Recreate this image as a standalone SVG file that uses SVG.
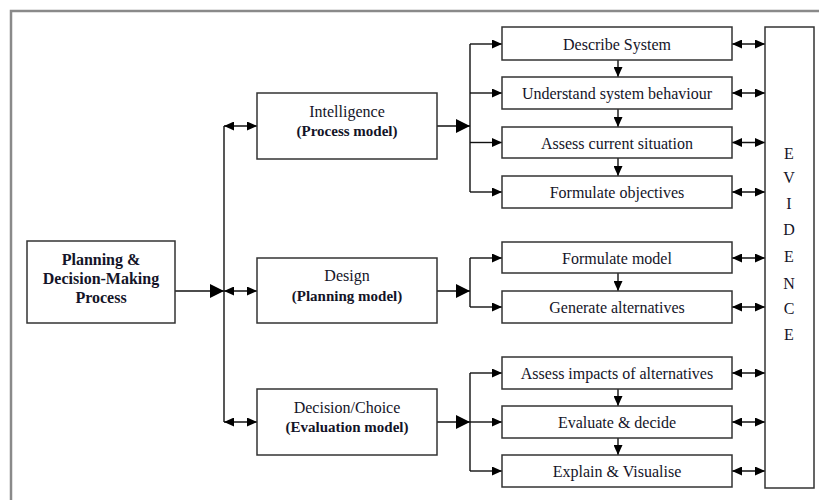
<svg xmlns="http://www.w3.org/2000/svg" width="819" height="500" viewBox="0 0 819 500">
  <style>
    .box { fill: #fff; stroke: #333; stroke-width: 1.5; }
    .t { font-family: "Liberation Serif", "Times New Roman", serif; font-size: 16px; fill: #141428; text-anchor: middle; }
    .b { font-weight: bold; }
    .s { font-size: 15px; }
    .ln { fill: none; stroke: #111; stroke-width: 1.4; }
  </style>
  <defs>
    <marker id="big" viewBox="0 0 14 14" refX="14" refY="7" markerWidth="14" markerHeight="14" markerUnits="userSpaceOnUse" orient="auto">
      <path d="M0,0 L14,7 L0,14 Z" fill="#000"/>
    </marker>
    <marker id="sm" viewBox="0 0 10 9" refX="10" refY="4.5" markerWidth="10" markerHeight="9" markerUnits="userSpaceOnUse" orient="auto-start-reverse">
      <path d="M0,0 L10,4.5 L0,9 Z" fill="#000"/>
    </marker>
  </defs>

  <!-- outer frame -->
  <rect x="11" y="11" width="840" height="520" fill="#fff" stroke="#8a8a8a" stroke-width="2.5"/>

  <!-- connectors -->
  <g id="connectors" class="ln">
    <!-- process to phases -->
    <path d="M175,291 H224" marker-end="url(#big)"/>
    <path d="M224,126 V422"/>
    <path d="M224,126 H257" marker-start="url(#sm)" marker-end="url(#sm)"/>
    <path d="M224,291 H257" marker-start="url(#sm)" marker-end="url(#sm)"/>
    <path d="M224,422 H257" marker-start="url(#sm)" marker-end="url(#sm)"/>

    <!-- intelligence branch -->
    <path d="M437,126 H470" marker-end="url(#big)"/>
    <path d="M470,44 V192"/>
    <path d="M470,44 H502" marker-end="url(#sm)"/>
    <path d="M470,93 H502" marker-end="url(#sm)"/>
    <path d="M470,142.5 H502" marker-end="url(#sm)"/>
    <path d="M470,192 H502" marker-end="url(#sm)"/>
    <path d="M618,60 V77" marker-end="url(#sm)"/>
    <path d="M618,109 V127" marker-end="url(#sm)"/>
    <path d="M618,158 V176" marker-end="url(#sm)"/>

    <!-- design branch -->
    <path d="M437,291 H470" marker-end="url(#big)"/>
    <path d="M470,258 V307"/>
    <path d="M470,258 H502" marker-end="url(#sm)"/>
    <path d="M470,307 H502" marker-end="url(#sm)"/>
    <path d="M618,273 V291" marker-end="url(#sm)"/>

    <!-- decision branch -->
    <path d="M437,422 H470" marker-end="url(#big)"/>
    <path d="M470,373 V471"/>
    <path d="M470,373 H502" marker-end="url(#sm)"/>
    <path d="M470,422 H502" marker-end="url(#sm)"/>
    <path d="M470,471 H502" marker-end="url(#sm)"/>
    <path d="M618,389 V406" marker-end="url(#sm)"/>
    <path d="M618,438 V455" marker-end="url(#sm)"/>

    <!-- links to evidence -->
    <path d="M732,44 H765" marker-start="url(#sm)" marker-end="url(#sm)"/>
    <path d="M732,93 H765" marker-start="url(#sm)" marker-end="url(#sm)"/>
    <path d="M732,142.5 H765" marker-start="url(#sm)" marker-end="url(#sm)"/>
    <path d="M732,192 H765" marker-start="url(#sm)" marker-end="url(#sm)"/>
    <path d="M732,258 H765" marker-start="url(#sm)" marker-end="url(#sm)"/>
    <path d="M732,307 H765" marker-start="url(#sm)" marker-end="url(#sm)"/>
    <path d="M732,373 H765" marker-start="url(#sm)" marker-end="url(#sm)"/>
    <path d="M732,422 H765" marker-start="url(#sm)" marker-end="url(#sm)"/>
    <path d="M732,471 H765" marker-start="url(#sm)" marker-end="url(#sm)"/>
  </g>

  <!-- main process -->
  <g id="process">
    <rect class="box" x="27" y="241" width="148" height="82"/>
    <text class="t b" x="101" y="265">Planning &amp;</text>
    <text class="t b" x="101" y="284">Decision-Making</text>
    <text class="t b" x="101" y="303">Process</text>
  </g>

  <!-- phases -->
  <g id="intelligence">
    <rect class="box" x="257" y="93" width="180" height="66"/>
    <text class="t" x="347" y="117">Intelligence</text>
    <text class="t b s" x="347" y="136">(Process model)</text>
  </g>
  <g id="design">
    <rect class="box" x="257" y="258" width="180" height="65"/>
    <text class="t" x="347" y="281">Design</text>
    <text class="t b s" x="347" y="301">(Planning model)</text>
  </g>
  <g id="decision">
    <rect class="box" x="257" y="389" width="180" height="66"/>
    <text class="t" x="347" y="413">Decision/Choice</text>
    <text class="t b s" x="347" y="432">(Evaluation model)</text>
  </g>

  <!-- steps -->
  <g id="describe-system">
    <rect class="box" x="502" y="27" width="230" height="33"/>
    <text class="t" x="617" y="49.5">Describe System</text>
  </g>
  <g id="understand-behaviour">
    <rect class="box" x="502" y="77" width="230" height="32"/>
    <text class="t" x="617" y="99">Understand system behaviour</text>
  </g>
  <g id="assess-situation">
    <rect class="box" x="502" y="127" width="230" height="31"/>
    <text class="t" x="617" y="148.5">Assess current situation</text>
  </g>
  <g id="formulate-objectives">
    <rect class="box" x="502" y="176" width="230" height="32"/>
    <text class="t" x="617" y="198">Formulate objectives</text>
  </g>
  <g id="formulate-model">
    <rect class="box" x="502" y="242" width="230" height="31"/>
    <text class="t" x="617" y="263.5">Formulate model</text>
  </g>
  <g id="generate-alternatives">
    <rect class="box" x="502" y="291" width="230" height="32"/>
    <text class="t" x="617" y="313">Generate alternatives</text>
  </g>
  <g id="assess-impacts">
    <rect class="box" x="502" y="357" width="230" height="32"/>
    <text class="t" x="617" y="379">Assess impacts of alternatives</text>
  </g>
  <g id="evaluate-decide">
    <rect class="box" x="502" y="406" width="230" height="32"/>
    <text class="t" x="617" y="428">Evaluate &amp; decide</text>
  </g>
  <g id="explain-visualise">
    <rect class="box" x="502" y="455" width="230" height="32"/>
    <text class="t" x="617" y="477">Explain &amp; Visualise</text>
  </g>

  <!-- evidence column -->
  <g id="evidence">
    <rect class="box" x="765" y="27" width="49" height="461"/>
    <text class="t" x="789" y="159">E</text>
    <text class="t" x="789" y="183">V</text>
    <text class="t" x="789" y="209">I</text>
    <text class="t" x="789" y="235">D</text>
    <text class="t" x="789" y="262">E</text>
    <text class="t" x="789" y="289">N</text>
    <text class="t" x="789" y="314">C</text>
    <text class="t" x="789" y="340">E</text>
  </g>
</svg>
